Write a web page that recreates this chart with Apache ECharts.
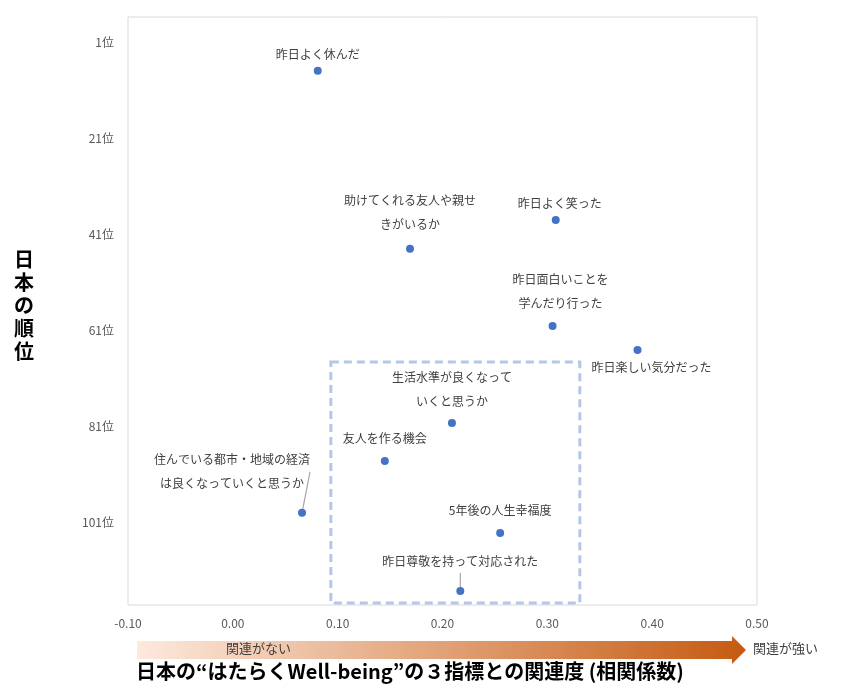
<!DOCTYPE html>
<html>
<head>
<meta charset="utf-8">
<script src="https://cdn.jsdelivr.net/npm/echarts@6/dist/echarts.min.js"></script>
<style>html,body{margin:0;padding:0;background:#fff}#main{width:846px;height:700px}</style>
</head>
<body>
<div id="main"></div>
<script>
// items, correlation (x) and Japan rank (y)
let names = ['昨日よく休んだ', '助けてくれる友人や親せ\nきがいるか', '昨日よく笑った', '昨日面白いことを\n学んだり行った', '昨日楽しい気分だった',
    '生活水準が良くなって\nいくと思うか', '友人を作る機会', '住んでいる都市・地域の経済\nは良くなっていくと思うか', '5年後の人生幸福度', '昨日尊敬を持って対応された'];
let corr = [0.081, 0.169, 0.308, 0.305, 0.386, 0.209, 0.145, 0.066, 0.255, 0.217];
let rank = [7.0, 44.1, 38.1, 60.2, 65.2, 80.4, 88.3, 99.1, 103.3, 115.4];
let rankTicks = [1, 21, 41, 61, 81, 101];

// label shifts in px (dx, dy)
let labelShift = [[0, -16], [0, -36], [4, -17], [8, -35], [14, 17], [0, -34], [0, -23], [-70, -41], [0, -23], [0, -30]];
let leader = [7, 9];

let points = names.map((n, i) => ({
    name: n,
    value: [corr[i], rank[i]],
    labelLine: {show: leader.includes(i), lineStyle: {color: '#a6a6a6', width: 1.2}}
}));

const font = 'Meiryo, "Noto Sans CJK JP", sans-serif';

const option = {
    grid: {left: 128, right: 89, top: 17, bottom: 95, show: true, borderColor: '#d9d9d9', borderWidth: 1},
    xAxis: {
        type: 'value', min: -0.1, max: 0.5, interval: 0.1,
        axisLine: {show: false}, axisTick: {show: false}, splitLine: {show: false},
        axisLabel: {formatter: v => v.toFixed(2), color: '#595959', fontSize: 12, fontFamily: font, margin: 12}
    },
    yAxis: {
        type: 'value', min: -4.2, max: 118.3, inverse: true,
        axisLine: {show: false}, axisTick: {show: false}, splitLine: {show: false},
        axisLabel: {customValues: rankTicks, formatter: v => Math.round(v) + '位', color: '#595959', fontSize: 12, fontFamily: font, margin: 14}
    },
    series: [{
        type: 'scatter',
        symbolSize: 8,
        itemStyle: {color: '#4472c4', opacity: 1},
        data: points,
        label: {
            show: true, position: 'inside', formatter: p => p.name,
            color: '#404040', fontSize: 12, fontFamily: font, lineHeight: 24
        },
        labelLine: {show: false},
        labelLayout: p => ({dx: labelShift[p.dataIndex][0], dy: labelShift[p.dataIndex][1]}),
        markArea: {
            silent: true,
            itemStyle: {color: 'rgba(0,0,0,0)', borderColor: '#b4c7e7', borderWidth: 3, borderType: [8, 5]},
            data: [[{coord: [0.0935, 67.7]}, {coord: [0.331, 117.9]}]]
        }
    }],
    graphic: [
        {type: 'text', left: 14, top: 248, style: {text: '日\n本\nの\n順\n位', font: 'bold 20px ' + font, fill: '#000', lineHeight: 23}},
        {type: 'polygon', shape: {points: [[137, 641], [732, 641], [732, 636], [746, 650], [732, 664], [732, 659], [137, 659]]},
            style: {fill: {type: 'linear', x: 0, y: 0, x2: 1, y2: 0, colorStops: [{offset: 0, color: '#fde9dd'}, {offset: 1, color: '#c55a11'}]}}},
        {type: 'text', left: 226, top: 642, style: {text: '関連がない', font: '13px ' + font, fill: '#404040'}},
        {type: 'text', left: 753, top: 642, style: {text: '関連が強い', font: '13px ' + font, fill: '#404040'}},
        {type: 'text', left: 136, top: 661, style: {text: '日本の“はたらくWell-being”の３指標との関連度 (相関係数)', font: 'bold 20px ' + font, fill: '#000'}}
    ]
};

let plot = echarts.init(document.querySelector('#main'));
plot.setOption(option);
</script>
</body>
</html>
